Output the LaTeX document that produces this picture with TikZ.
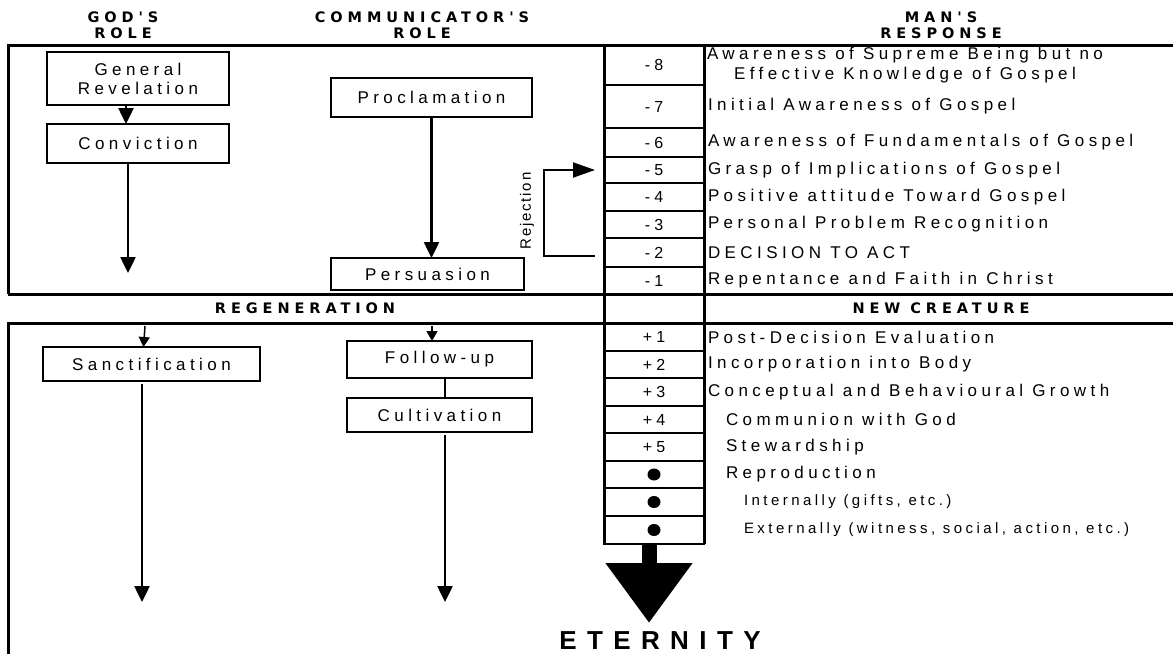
\documentclass[tikz,border=0pt]{standalone}
\usepackage{fontspec}
\usetikzlibrary{arrows.meta,positioning}
\setmainfont{Liberation Sans}
\newfontfamily\rowfont[LetterSpace=26]{Liberation Sans}
\newfontfamily\headfont[LetterSpace=34]{DejaVu Sans}
\newfontfamily\endfont[LetterSpace=40]{Liberation Sans}
\newfontfamily\smallfont[LetterSpace=23]{Liberation Sans}
\newfontfamily\sidefont[LetterSpace=12]{Liberation Sans}

\begin{document}
\begin{tikzpicture}[x=1pt,y=-1pt,
    box/.style={draw,line width=1.3pt,inner sep=0pt,outer sep=0pt,align=center,font=\rowfont\fontsize{17}{19}\selectfont},
    num/.style={draw,line width=2pt,inner sep=0pt,outer sep=0pt,minimum width=100pt,font=\rowfont\fontsize{16}{18}\selectfont},
    txt/.style={inner sep=0pt,outer sep=0pt,anchor=west,font=\rowfont\fontsize{17}{20}\selectfont},
    head/.style={align=center,inner sep=0pt,font=\headfont\bfseries\fontsize{14.5}{16}\selectfont},
    flow/.style={line width=2.5pt,-{Triangle[width=15pt,length=16pt]}},
    nudge/.style={line width=1.5pt,-{Triangle[width=11pt,length=10pt]}},
    frame/.style={line width=3pt}]
\useasboundingbox (0,0) rectangle (1173,654);

\node[head] (godh) at (123,25) {GOD'S\\ROLE};
\node[head] (comh) at (422,25) {COMMUNICATOR'S\\ROLE};
\node[head] (manh) at (941,25) {MAN'S\\RESPONSE};

\draw[frame] (8,294) -- (8,45) -- (1173,45);
\draw[frame] (8,294) -- (1173,294);
\draw[frame] (8,654) -- (8,323) -- (1173,323);

\node[num,minimum height=40pt] (m8) at (654,65) {-8};
\node[num,minimum height=43pt] (m7) at (654,106.5) {-7};
\node[num,minimum height=29pt] (m6) at (654,142.5) {-6};
\node[num,minimum height=26pt] (m5) at (654,170) {-5};
\node[num,minimum height=28pt] (m4) at (654,197) {-4};
\node[num,minimum height=27pt] (m3) at (654,224.5) {-3};
\node[num,minimum height=29pt] (m2) at (654,252.5) {-2};
\node[num,minimum height=27pt] (m1) at (654,280.5) {-1};
\node[num,minimum height=28pt] (p1) at (654,337) {+1};
\node[num,minimum height=27pt] (p2) at (654,364.5) {+2};
\node[num,minimum height=28pt] (p3) at (654,392) {+3};
\node[num,minimum height=27pt] (p4) at (654,419.5) {+4};
\node[num,minimum height=28pt] (p5) at (654,447) {+5};
\node[num,minimum height=27pt] (r1) at (654,474.5) {};
\node[num,minimum height=28pt] (r2) at (654,502) {};
\node[num,minimum height=28pt] (r3) at (654,530) {};
\fill (r1.center) ellipse [x radius=6.5pt,y radius=6pt];
\fill (r2.center) ellipse [x radius=6.5pt,y radius=6pt];
\fill (r3.center) ellipse [x radius=6.5pt,y radius=6pt];
\draw[frame] (m8.north west) -- (r3.south west);
\draw[frame] (m8.north east) -- (r3.south east);

\node[txt,align=center,right=3pt of m8] (t8) {Awareness of Supreme Being but no\\Effective Knowledge of Gospel};
\node[txt,right=4pt of m7] (t7) {Initial Awareness of Gospel};
\node[txt,right=4pt of m6] (t6) {Awareness of Fundamentals of Gospel};
\node[txt,right=4pt of m5] (t5) {Grasp of Implications of Gospel};
\node[txt,right=4pt of m4] (t4) {Positive attitude Toward Gospel};
\node[txt,right=4pt of m3] (t3) {Personal Problem Recognition};
\node[txt,right=4pt of m2] (t2) {DECISION TO ACT};
\node[txt,right=4pt of m1] (t1) {Repentance and Faith in Christ};
\node[txt,right=4pt of p1] (u1) {Post-Decision Evaluation};
\node[txt,right=4pt of p2] (u2) {Incorporation into Body};
\node[txt,right=4pt of p3] (u3) {Conceptual and Behavioural Growth};
\node[txt,right=22pt of p4] (u4) {Communion with God};
\node[txt,right=22pt of p5] (u5) {Stewardship};
\node[txt,right=22pt of r1] (v1) {Reproduction};
\node[txt,right=40pt of r2,font=\smallfont\fontsize{15}{16}\selectfont] (v2) {Internally (gifts, etc.)};
\node[txt,right=40pt of r3,font=\smallfont\fontsize{15}{16}\selectfont] (v3) {Externally (witness, social, action, etc.)};

\node[head] (regen) at (305,308) {REGENERATION};
\node[head] (newcr) at (941,308) {NEW CREATURE};

\node[box,minimum width=182pt,minimum height=53pt] (genrev) at (138,78.5) {General\\Revelation};
\node[box,minimum width=182pt,minimum height=39pt] (convict) at (138,143.5) {Conviction};
\draw[flow] ([xshift=-12pt]genrev.south) -- ([xshift=-12pt]convict.north);
\coordinate (godend) at (128,273);
\draw[flow] (convict.south -| godend) -- (godend);

\node[box,minimum width=201pt,minimum height=39pt] (proclaim) at (431.5,97.5) {Proclamation};
\node[box,minimum width=193pt,minimum height=32pt] (persuade) at (427.5,274) {Persuasion};
\draw[flow] (proclaim.south) -- (proclaim.south |- persuade.north);

\draw[line width=2pt,-{Triangle[width=15pt,length=22pt]}] ([xshift=-9pt,yshift=-3pt]m2.west) -- ++(-51,0) |- ([xshift=-9pt]m5.west);
\node[rotate=90,font=\sidefont\fontsize{15}{16}\selectfont] (reject) at (527,211) {Rejection};

\node[box,minimum width=217pt,minimum height=34pt] (sanctify) at (151.5,364) {Sanctification};
\coordinate (godtop) at (145,326);
\draw[nudge] (godtop) -- ([xshift=-8pt]sanctify.north);
\coordinate (sancend) at (142,602);
\draw[flow] ([yshift=-3pt]sanctify.south -| sancend) -- (sancend);

\node[box,minimum width=185pt,minimum height=37pt] (followup) at (439.5,359.5) {Follow-up};
\node[box,minimum width=185pt,minimum height=34pt] (cultivate) at (439.5,415) {Cultivation};
\draw[line width=1.2pt] ([xshift=5.5pt]followup.south) -- ([xshift=5.5pt]cultivate.north);
\coordinate (comtop) at (432,326);
\draw[nudge] (comtop) -- (comtop |- followup.north);
\coordinate (comend) at (445,602);
\draw[flow] ([yshift=-3pt]cultivate.south -| comend) -- (comend);

\coordinate (eterntip) at (649,623);
\draw[line width=15pt,-{Triangle[width=83pt,length=60pt]}] (r3.south -| eterntip) -- (eterntip);
\node[font=\endfont\bfseries\fontsize{26}{26}\selectfont] (eternity) at (660,641) {ETERNITY};
\end{tikzpicture}
\end{document}
